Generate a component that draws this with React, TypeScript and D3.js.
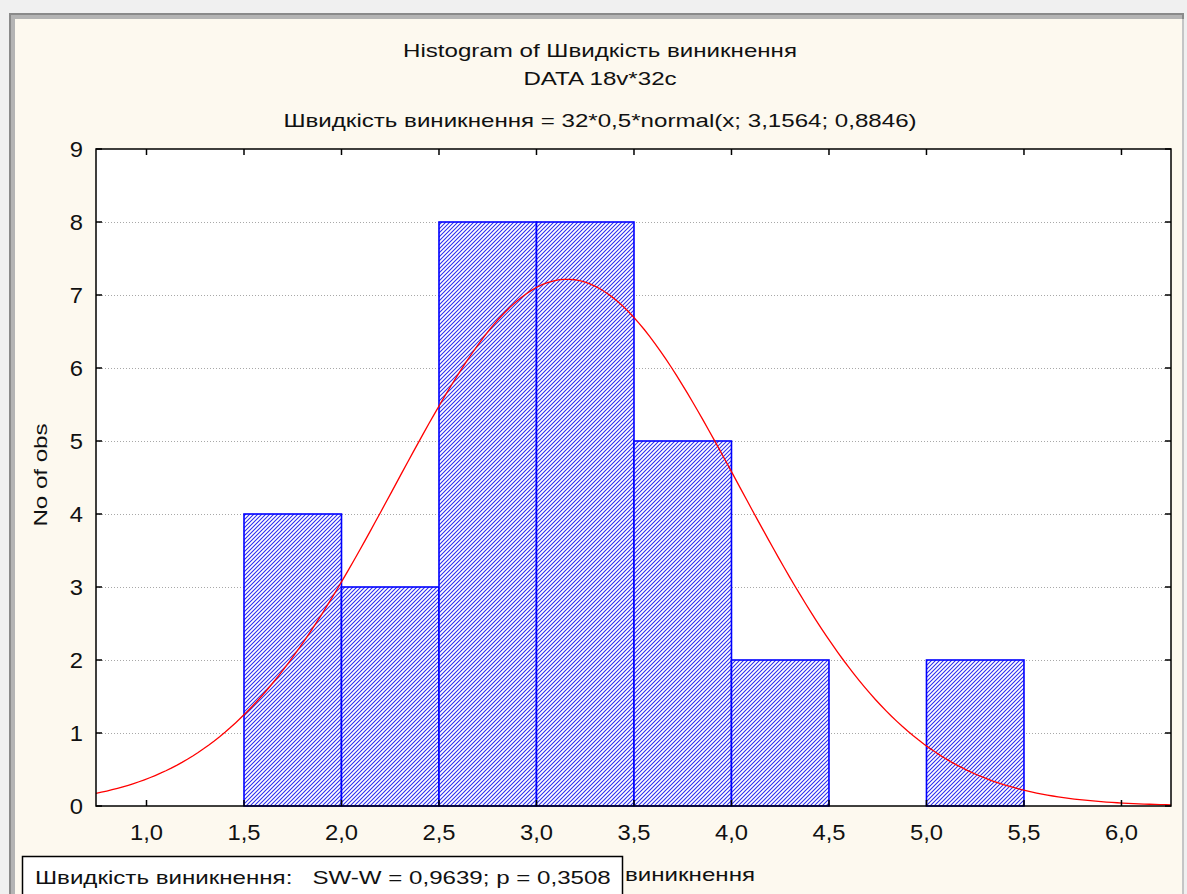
import React, { useEffect, useRef } from "react";
import * as d3 from "d3";

// histogram bins (lower edge, upper edge, count)
const binStarts = [1.5, 2.0, 2.5, 3.0, 3.5, 4.0, 4.5, 5.0];
const binEnds = [2.0, 2.5, 3.0, 3.5, 4.0, 4.5, 5.0, 5.5];
const binCounts = [4, 3, 8, 8, 5, 2, 0, 2];

const xTicks = [1.0, 1.5, 2.0, 2.5, 3.0, 3.5, 4.0, 4.5, 5.0, 5.5, 6.0];
const yTicks = [0, 1, 2, 3, 4, 5, 6, 7, 8, 9];

// fitted normal from the title: 32*0,5*normal(x; 3,1564; 0,8846)
const nObs = 32;
const binWidth = 0.5;
const fitMean = 3.1564;
const fitSd = 0.8846;

const titleLines = [
  "Histogram of Швидкість виникнення",
  "DATA 18v*32c",
  "Швидкість виникнення = 32*0,5*normal(x; 3,1564; 0,8846)",
];
const statsText = "Швидкість виникнення:   SW-W = 0,9639; p = 0,3508";

const W = 1187;
const H = 894;
const margin = { left: 96, top: 149, right: 1171, bottom: 806 };
const stretch = 1.34; // the text in the picture is wider than Arial at its height

const App: React.FC = () => {
  const ref = useRef<SVGSVGElement | null>(null);

  useEffect(() => {
    const svg = d3.select(ref.current);
    svg.selectAll("*").remove();
    svg.attr("width", W).attr("height", H);

    const font = "'Liberation Sans', Arial, sans-serif";

    // window-ish background and frame
    svg.append("rect").attr("width", W).attr("height", H).attr("fill", "#f0f0f0");
    svg.append("rect").attr("x", 9).attr("y", 13).attr("width", 1175).attr("height", H)
      .attr("fill", "#8a8a8a");
    svg.append("rect").attr("x", 11).attr("y", 15).attr("width", 1171).attr("height", H)
      .attr("fill", "#b4b4b4");
    svg.append("rect").attr("x", 15).attr("y", 19).attr("width", 1167).attr("height", H)
      .attr("fill", "#fdf9ef");
    svg.append("line").attr("x1", 1183).attr("x2", 1183).attr("y1", 19).attr("y2", H)
      .attr("stroke", "#d8d8d8").attr("stroke-width", 1.5);

    const defs = svg.append("defs");
    const pat = defs.append("pattern")
      .attr("id", "hatch")
      .attr("patternUnits", "userSpaceOnUse")
      .attr("width", 4)
      .attr("height", 4);
    pat.append("rect").attr("width", 4).attr("height", 4).attr("fill", "#ffffff");
    pat.append("path")
      .attr("d", "M-1,1 l2,-2 M0,4 l4,-4 M3,5 l2,-2")
      .attr("fill", "none")
      .style("stroke", "#2b2bf0")
      .style("stroke-width", "1.05px");

    const x = d3.scaleLinear().domain([0.741, 6.254]).range([margin.left, margin.right]);
    const y = d3.scaleLinear().domain([0, 9]).range([margin.bottom, margin.top]);

    // plot area
    svg.append("rect")
      .attr("x", margin.left).attr("y", margin.top)
      .attr("width", margin.right - margin.left).attr("height", margin.bottom - margin.top)
      .attr("fill", "#ffffff");

    // grid
    svg.append("g").selectAll("line")
      .data(yTicks.filter(t => t > 0 && t < 9))
      .enter().append("line")
      .attr("x1", margin.left).attr("x2", margin.right)
      .attr("y1", d => y(d) + 0.5).attr("y2", d => y(d) + 0.5)
      .attr("stroke", "#a8a8a8")
      .attr("stroke-width", 1)
      .attr("stroke-dasharray", "1,2");

    // bars
    const bins = binStarts.map((s, i) => ({ x0: s, x1: binEnds[i], n: binCounts[i] }));
    svg.append("g").selectAll("rect")
      .data(bins.filter(b => b.n > 0))
      .enter().append("rect")
      .attr("x", d => x(d.x0))
      .attr("y", d => y(d.n))
      .attr("width", d => x(d.x1) - x(d.x0))
      .attr("height", d => y(0) - y(d.n))
      .attr("fill", "url(#hatch)")
      .attr("stroke", "#0000ff")
      .attr("stroke-width", 1.6);

    // normal curve
    const pdf = (v: number) =>
      (nObs * binWidth) / (fitSd * Math.sqrt(2 * Math.PI)) *
      Math.exp(-0.5 * ((v - fitMean) / fitSd) ** 2);
    const xs = d3.range(0, 201).map(i => 0.741 + (6.254 - 0.741) * i / 200);
    const line = d3.line<number>().x(d => x(d)).y(d => y(pdf(d))).curve(d3.curveLinear);
    svg.append("path")
      .attr("d", line(xs) || "")
      .attr("fill", "none")
      .attr("stroke", "#ff0000")
      .attr("stroke-width", 1.3);

    // frame
    svg.append("rect")
      .attr("x", margin.left).attr("y", margin.top)
      .attr("width", margin.right - margin.left).attr("height", margin.bottom - margin.top)
      .attr("fill", "none")
      .attr("stroke", "#000")
      .attr("stroke-width", 1.5);

    // ticks
    const tk = svg.append("g").attr("stroke", "#000").attr("stroke-width", 1.5);
    xTicks.forEach(t => {
      tk.append("line").attr("x1", x(t)).attr("x2", x(t)).attr("y1", margin.bottom).attr("y2", margin.bottom - 6);
      tk.append("line").attr("x1", x(t)).attr("x2", x(t)).attr("y1", margin.top).attr("y2", margin.top + 6);
    });
    yTicks.forEach(t => {
      tk.append("line").attr("x1", margin.left).attr("x2", margin.left + 6).attr("y1", y(t)).attr("y2", y(t));
      tk.append("line").attr("x1", margin.right).attr("x2", margin.right - 6).attr("y1", y(t)).attr("y2", y(t));
    });

    // stretched text helper
    const label = (tx: number, ty: number, txt: string, size: number, anchor: string, sx: number, rot = 0) => {
      svg.append("g")
        .attr("transform", `translate(${tx},${ty}) rotate(${rot}) scale(${sx},1)`)
        .append("text")
        .attr("text-anchor", anchor)
        .attr("font-family", font).attr("font-size", size).attr("fill", "#111")
        .style("white-space", "pre")
        .text(txt);
    };

    // tick labels
    const fmt = (v: number) => v.toFixed(1).replace(".", ",");
    xTicks.forEach(t => label(x(t), 840, fmt(t), 22, "middle", 1.08));
    yTicks.forEach(t => label(83, y(t) + 8, String(t), 22, "end", 1.08));

    // titles
    const titleY = [57, 85, 127];
    titleLines.forEach((t, i) => label(600, titleY[i], t, 18, "middle", stretch));

    // axis labels (the x label sits partly under the stats box, as in the original)
    label(47, 475, "No of obs", 18, "middle", stretch, -90);
    label(755, 881, "Швидкість виникнення", 18, "end", stretch);

    // stats box
    svg.append("rect")
      .attr("x", 22.5).attr("y", 856.5).attr("width", 600).attr("height", 50)
      .attr("fill", "#ffffff").attr("stroke", "#000").attr("stroke-width", 1.5);
    label(35, 884, statsText, 18, "start", stretch);
  }, []);

  return (
    <div style={{ position: "absolute", left: 0, top: 0 }}>
      <svg ref={ref}></svg>
    </div>
  );
};

export default App;
